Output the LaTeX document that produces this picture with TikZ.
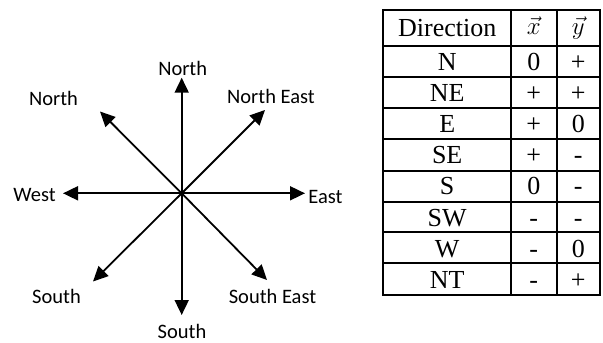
\documentclass[tikz,border=0pt]{standalone}
\usepackage{fontspec}
\setmainfont{Liberation Serif}
\newfontfamily\labelfont{Carlito}
\usetikzlibrary{arrows.meta}
\begin{document}
\begin{tikzpicture}[x=1pt,y=-1pt,
  dirarrow/.style={line width=1.8pt,-{Triangle[length=15pt,width=14pt]}},
  dirlabel/.style={font=\labelfont\fontsize{20.5}{23}\selectfont,inner sep=0pt},
  cell/.style={font=\fontsize{26}{29}\selectfont,inner sep=0pt,anchor=base},
  gridline/.style={line width=2.2pt}]
\useasboundingbox (0,0) rectangle (603,343);

% compass rose
\coordinate (c) at (181.7,193.3);
\coordinate (n) at (181.7,77.7);
\coordinate (s) at (181.7,315);
\coordinate (e) at (305,193.3);
\coordinate (w) at (63,193.3);
\coordinate (ne) at (265,110);
\coordinate (nw) at (100,111.5);
\coordinate (sw) at (93,281.5);
\coordinate (se) at (267,280);
\foreach \t in {n,s,e,w,ne,nw,sw,se}
  \draw[dirarrow] (c) -- (\t);

\node[dirlabel] (ln)  at (182.7,68.5)  {North};
\node[dirlabel] (lnw) at (53.5,98.5)   {North};
\node[dirlabel] (lne) at (271,96.5)    {North East};
\node[dirlabel] (lw)  at (34.5,195)    {West};
\node[dirlabel] (le)  at (325.5,196.5) {East};
\node[dirlabel] (lsw) at (56.5,296.5)  {South};
\node[dirlabel] (lse) at (272.5,296.5) {South East};
\node[dirlabel] (ls)  at (182,331.5)   {South};

% sign table
\def\xa{383.3}\def\xb{511}\def\xc{556.7}\def\xd{600}
\draw[gridline] (\xa,10) rectangle (\xd,295);
\draw[gridline] (\xb,10) -- (\xb,295);
\draw[gridline] (\xc,10) -- (\xc,295);
\foreach \yy in {45.7,76.7,107.7,139.3,170.7,201.7,232.3,263.3}
  \draw[gridline] (\xa,\yy) -- (\xd,\yy);

\node[cell] (h0) at (447.2,36.5) {Direction};
\node[cell] (h1) at (533.8,34) {$\vec{x}$};
\node[cell] (h2) at (578.3,34) {$\vec{y}$};

% rows: baseline sits 9pt below the row centre
\foreach \d/\a/\b [count=\i] in {N/0/+,NE/+/+,E/+/0,SE/+/-,S/0/-,SW/-/-,W/-/0,NT/-/+}{
  \pgfmathsetmacro\yc{45.7+31.16*(\i-0.5)+9}
  \node[cell] (d\i) at (447.2,\yc) {\d};
  \node[cell] (a\i) at (533.8,\yc) {\a};
  \node[cell] (b\i) at (578.3,\yc) {\b};
}
\end{tikzpicture}
\end{document}
